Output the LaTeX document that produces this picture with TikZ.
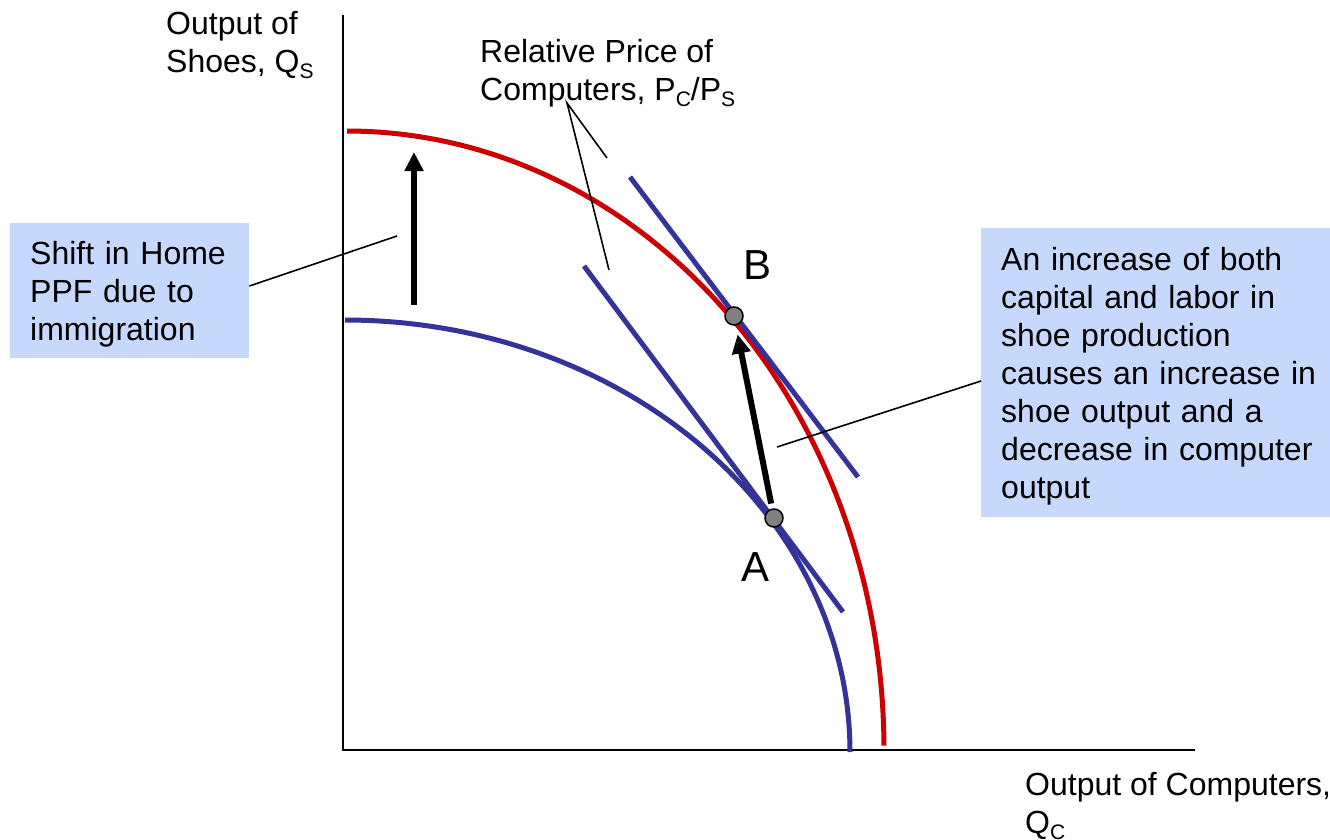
\documentclass[tikz,border=0pt]{standalone}
\usepackage{fontspec}
\setmainfont{Liberation Sans}
\usetikzlibrary{arrows.meta}
\definecolor{ppfblue}{HTML}{333399}
\definecolor{ppfred}{HTML}{CC0000}
\definecolor{boxblue}{HTML}{C6D8FB}
\definecolor{dotgray}{HTML}{808080}
\newcommand\sbs[1]{\raisebox{-6pt}{\fontsize{21}{21}\selectfont #1}}
\begin{document}
\begin{tikzpicture}[x=1pt,y=-1pt,
  lbl/.style={font=\fontsize{32}{38}\selectfont, inner sep=0pt, align=left, anchor=north west},
  boxtext/.style={lbl, text width=330pt},
  callbox/.style={fill=boxblue, draw=none, inner sep=0pt, anchor=north west},
  ptlabel/.style={font=\fontsize{42}{42}\selectfont, inner sep=0pt, anchor=base west},
  axis/.style={line width=2pt, black},
  bluecurve/.style={line width=5pt, ppfblue},
  redcurve/.style={line width=5pt, ppfred},
  callout/.style={line width=1.6pt, black},
  dot/.style={circle, fill=dotgray, draw=black, line width=1.5pt, minimum size=18pt, inner sep=0pt},
  bigarrow/.style={line width=6pt, -{Triangle[width=18pt,length=19pt]}}
]
\useasboundingbox (0,0) rectangle (1330,840);

% axes
\coordinate (ytop) at (343,15);
\coordinate (O) at (343,750);
\coordinate (xend) at (1195,750);
\draw[axis] (ytop) -- (O) -- (xend);

% PPF curves
\draw[bluecurve] plot[domain=0:90, samples=120, smooth] ({345+505*sin(\x)}, {752-432*cos(\x)});
\draw[redcurve] plot[domain=0:89.6, samples=120, smooth] ({347+537*sin(\x)}, {750-619*cos(\x)});

% tangent price lines
\coordinate (tA1) at (584,266);
\coordinate (tA2) at (843,612);
\coordinate (tB1) at (630,177);
\coordinate (tB2) at (858,477);
\draw[bluecurve] (tA1) -- (tA2);
\draw[bluecurve] (tB1) -- (tB2);

% equilibrium points
\node[dot] (A) at (774,518) {};
\node[dot] (B) at (734,316) {};
\node[ptlabel] (Alabel) at (741,581) {A};
\node[ptlabel] (Blabel) at (743,279) {B};

% arrows
\draw[bigarrow, shorten <=5pt, shorten >=9pt] (A) -- (B);
\coordinate (shiftS) at (414,305);
\coordinate (shiftE) at (414,152);
\draw[bigarrow] (shiftS) -- (shiftE);

% axis labels
\node[lbl] (ylabel) at (166,11.6) {Output of\\Shoes, Q\sbs{S}};
\node[lbl] (xlabel) at (1025,772.6) {Output of Computers,\\Q\sbs{C}};
\node[lbl] (plabel) at (480,38.7) {Relative Price of\\Computers, P\sbs{C}/P\sbs{S}};

% relative price callout lines
\coordinate (pc) at (567,103);
\coordinate (pe1) at (607,158);
\coordinate (pe2) at (609,270);
\draw[callout] (pe1) -- (pc) -- (pe2);

% shift callout
\node[callbox, minimum width=239pt, minimum height=135pt] (shiftbox) at (10,223) {};
\node[boxtext, text width=215pt] (shifttext) at (30,240.7) {Shift in Home\\PPF due to\\immigration};
\coordinate (shiftpt) at (397,236);
\draw[callout] (shiftbox.east |- 0,286) -- (shiftpt);

% increase callout
\node[callbox, minimum width=349pt, minimum height=289pt] (incbox) at (981,228) {};
\node[boxtext] (inctext) at (1001,246.7) {An increase of both\\capital and labor in\\shoe production\\causes an increase in\\shoe output and a\\decrease in computer\\output};
\coordinate (incpt) at (777,447);
\draw[callout] (incpt) -- (incbox.west |- 0,381);
\end{tikzpicture}
\end{document}
